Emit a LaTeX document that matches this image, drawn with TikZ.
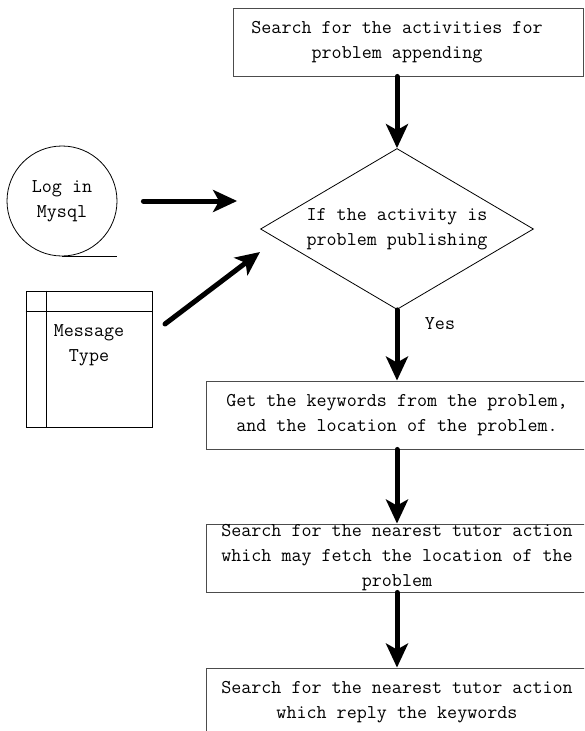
\documentclass[tikz,border=0pt]{standalone}
\usepackage{fontspec}
\usetikzlibrary{arrows.meta,positioning,shapes.geometric}
\newcommand{\flowfont}{\ttfamily\fontsize{19.5}{25}\selectfont}

\begin{document}
\begin{tikzpicture}[x=1pt,y=-1pt,
	process/.style={rectangle,draw=black!70,line width=0.9pt,inner sep=0pt,minimum width=382pt,minimum height=68pt,align=center,font=\flowfont},
	decision/.style={diamond,draw,line width=0.8pt,inner sep=0pt,minimum width=273pt,minimum height=161pt,aspect=1.7,align=center,font=\flowfont},
	tape/.style={circle,draw,line width=0.8pt,inner sep=0pt,minimum size=110pt,align=center,font=\flowfont},
	store/.style={rectangle,draw,line width=0.8pt,inner sep=0pt,minimum width=126pt,minimum height=136pt},
	label/.style={align=center,font=\flowfont,inner sep=0pt},
	paths/.style={-{Stealth[length=24pt,width=22pt,inset=6pt]},line width=5pt,line cap=round}
	]
\clip (0,0) rectangle (584,731);

\node [process,minimum width=350pt] (p1) at (408,42) {};
\node [label] (t1) at (397,42) {Search for the activities for\\problem appending};

\node [decision] (dia) at (397,229) {If the activity is\\problem publishing};

\node [tape] (log) at (62,201) {Log in\\Mysql};
\draw [line width=0.8pt] (log.south) -- ++(55,0);

\node [store] (msg) at (89,359) {};
\draw [line width=0.8pt] ([yshift=-21pt]msg.north west) -- ([yshift=-21pt]msg.north east);
\draw [line width=0.8pt] ([xshift=21pt]msg.north west) -- ([xshift=21pt]msg.south west);
\node [label] (mt) at (89,345) {Message\\Type};

\node [process] (p2) at (397,415) {Get the keywords from the problem,\\and the location of the problem.};
\node [process] (p3) at (397,558) {Search for the nearest tutor action\\which may fetch the location of the\\problem};
\node [process] (p4) at (397,702) {Search for the nearest tutor action\\which reply the keywords};

\node [label] (yes) at (440,324) {Yes};

\coordinate (mstart) at (165,324);
\coordinate (mend) at (260,252);

\draw [paths] (p1.south -| dia.north) to (dia.north);
\draw [paths,shorten <=26pt,shorten >=23pt] (log.east) to (log.east -| dia.west);
\draw [paths] (mstart) to (mend);
\draw [paths] (dia.south) to (p2.north);
\draw [paths] (p2.south) to (p3.north);
\draw [paths] (p3.south) to (p4.north);
\end{tikzpicture}
\end{document}
